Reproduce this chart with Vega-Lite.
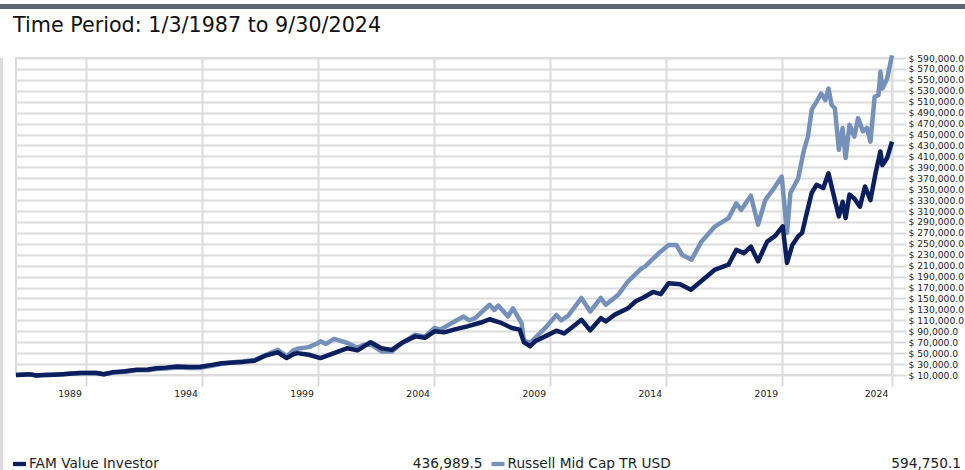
{
  "$schema": "https://vega.github.io/schema/vega-lite/v6.json",
  "background": "white",
  "padding": 0,
  "config": {"view": {"stroke": null}, "font": "DejaVu Sans", "concat": {"spacing": 0}},
  "datasets": {
    "fam": [
      {"date": "1987-01-03", "value": 10000}, {"date": "1987-04-15", "value": 10600}, {"date": "1987-08-15", "value": 11200},
      {"date": "1987-11-15", "value": 9200}, {"date": "1988-03-15", "value": 9800}, {"date": "1988-08-15", "value": 10500},
      {"date": "1989-01-15", "value": 11500}, {"date": "1989-06-15", "value": 12800}, {"date": "1989-10-15", "value": 13500},
      {"date": "1990-01-15", "value": 13700}, {"date": "1990-06-15", "value": 13800}, {"date": "1990-10-15", "value": 11500},
      {"date": "1991-03-15", "value": 15000}, {"date": "1991-09-15", "value": 16700}, {"date": "1992-03-15", "value": 19500},
      {"date": "1992-09-15", "value": 20000}, {"date": "1993-01-15", "value": 22500}, {"date": "1993-06-15", "value": 23500},
      {"date": "1993-12-15", "value": 25500}, {"date": "1994-06-15", "value": 24500}, {"date": "1994-12-15", "value": 25000},
      {"date": "1995-06-15", "value": 28500}, {"date": "1995-11-15", "value": 31500}, {"date": "1996-05-15", "value": 33000},
      {"date": "1996-10-15", "value": 34000}, {"date": "1997-04-15", "value": 36000}, {"date": "1997-10-15", "value": 46000},
      {"date": "1998-04-15", "value": 51500}, {"date": "1998-08-31", "value": 41000}, {"date": "1998-12-15", "value": 48000},
      {"date": "1999-02-15", "value": 50000}, {"date": "1999-08-15", "value": 47000}, {"date": "2000-02-15", "value": 41000},
      {"date": "2000-09-15", "value": 50000}, {"date": "2001-04-15", "value": 59000}, {"date": "2001-09-20", "value": 55000},
      {"date": "2002-04-15", "value": 70000}, {"date": "2002-09-30", "value": 59000}, {"date": "2003-03-15", "value": 56000},
      {"date": "2003-08-15", "value": 68500}, {"date": "2004-03-15", "value": 80700}, {"date": "2004-08-15", "value": 78000},
      {"date": "2005-01-15", "value": 90000}, {"date": "2005-06-15", "value": 88000}, {"date": "2005-11-15", "value": 93000},
      {"date": "2006-06-15", "value": 99000}, {"date": "2007-01-15", "value": 106000}, {"date": "2007-05-31", "value": 112000},
      {"date": "2007-11-15", "value": 106000}, {"date": "2008-05-15", "value": 96000}, {"date": "2008-09-15", "value": 93000},
      {"date": "2008-11-20", "value": 70000}, {"date": "2009-02-28", "value": 62500}, {"date": "2009-05-15", "value": 71600},
      {"date": "2009-11-15", "value": 82000}, {"date": "2010-04-15", "value": 91000}, {"date": "2010-08-15", "value": 86000},
      {"date": "2010-12-15", "value": 97000}, {"date": "2011-05-15", "value": 111000}, {"date": "2011-09-30", "value": 91700},
      {"date": "2012-03-15", "value": 114000}, {"date": "2012-05-31", "value": 108000}, {"date": "2012-10-15", "value": 120000},
      {"date": "2013-05-15", "value": 132000}, {"date": "2013-09-15", "value": 145000}, {"date": "2013-12-31", "value": 151000},
      {"date": "2014-06-15", "value": 162000}, {"date": "2014-10-15", "value": 158000}, {"date": "2015-02-15", "value": 178000},
      {"date": "2015-08-15", "value": 176000}, {"date": "2016-01-31", "value": 166000}, {"date": "2016-07-15", "value": 182000},
      {"date": "2017-02-15", "value": 203000}, {"date": "2017-09-15", "value": 212000}, {"date": "2018-01-15", "value": 239000},
      {"date": "2018-05-15", "value": 233000}, {"date": "2018-08-31", "value": 245000}, {"date": "2018-12-24", "value": 218000},
      {"date": "2019-05-15", "value": 254000}, {"date": "2019-09-15", "value": 264000}, {"date": "2020-01-15", "value": 282000},
      {"date": "2020-03-23", "value": 215000}, {"date": "2020-06-15", "value": 248000}, {"date": "2020-09-15", "value": 264000},
      {"date": "2020-11-15", "value": 270000}, {"date": "2021-01-15", "value": 300000}, {"date": "2021-04-15", "value": 343000},
      {"date": "2021-06-30", "value": 358000}, {"date": "2021-10-15", "value": 352000}, {"date": "2022-01-05", "value": 379000},
      {"date": "2022-03-07", "value": 349000}, {"date": "2022-06-17", "value": 300000}, {"date": "2022-08-15", "value": 327000},
      {"date": "2022-10-01", "value": 297000}, {"date": "2022-12-01", "value": 340000}, {"date": "2023-02-15", "value": 333000},
      {"date": "2023-05-15", "value": 318000}, {"date": "2023-08-01", "value": 355000}, {"date": "2023-10-27", "value": 330000},
      {"date": "2024-01-15", "value": 379000}, {"date": "2024-03-31", "value": 419000}, {"date": "2024-05-01", "value": 394000},
      {"date": "2024-07-15", "value": 407000}, {"date": "2024-09-30", "value": 436989.5}
    ],
    "rmc": [
      {"date": "1987-01-03", "value": 10000}, {"date": "1987-04-15", "value": 10800}, {"date": "1987-08-15", "value": 11500},
      {"date": "1987-11-15", "value": 9000}, {"date": "1988-03-15", "value": 9900}, {"date": "1988-08-15", "value": 10600},
      {"date": "1989-01-15", "value": 11600}, {"date": "1989-06-15", "value": 13200}, {"date": "1989-10-15", "value": 13800},
      {"date": "1990-01-15", "value": 13500}, {"date": "1990-06-15", "value": 14000}, {"date": "1990-10-15", "value": 11300},
      {"date": "1991-03-15", "value": 14800}, {"date": "1991-09-15", "value": 16000}, {"date": "1992-03-15", "value": 18500},
      {"date": "1992-09-15", "value": 18800}, {"date": "1993-01-15", "value": 21000}, {"date": "1993-06-15", "value": 22000},
      {"date": "1993-12-15", "value": 23500}, {"date": "1994-06-15", "value": 22800}, {"date": "1994-12-15", "value": 23000},
      {"date": "1995-06-15", "value": 27000}, {"date": "1995-11-15", "value": 30500}, {"date": "1996-05-15", "value": 33500},
      {"date": "1996-10-15", "value": 35000}, {"date": "1997-04-15", "value": 37500}, {"date": "1997-10-15", "value": 47000},
      {"date": "1998-04-15", "value": 56000}, {"date": "1998-08-31", "value": 44000}, {"date": "1998-12-15", "value": 55000},
      {"date": "1999-02-15", "value": 58000}, {"date": "1999-08-15", "value": 61000}, {"date": "1999-12-31", "value": 68000},
      {"date": "2000-02-15", "value": 71600}, {"date": "2000-05-15", "value": 67000}, {"date": "2000-09-15", "value": 76000},
      {"date": "2001-04-15", "value": 68500}, {"date": "2001-09-20", "value": 60000}, {"date": "2001-12-15", "value": 65000},
      {"date": "2002-04-15", "value": 66000}, {"date": "2002-09-30", "value": 53000}, {"date": "2003-03-15", "value": 53000},
      {"date": "2003-08-15", "value": 68000}, {"date": "2004-03-15", "value": 83700}, {"date": "2004-08-15", "value": 80000},
      {"date": "2005-01-15", "value": 96000}, {"date": "2005-04-15", "value": 93000}, {"date": "2005-10-15", "value": 105000},
      {"date": "2006-04-15", "value": 117000}, {"date": "2006-07-15", "value": 110000}, {"date": "2006-10-15", "value": 114000},
      {"date": "2007-05-31", "value": 138500}, {"date": "2007-08-15", "value": 129000}, {"date": "2007-10-15", "value": 137000},
      {"date": "2008-03-15", "value": 117000}, {"date": "2008-06-01", "value": 132000}, {"date": "2008-10-15", "value": 105000},
      {"date": "2008-11-20", "value": 73000}, {"date": "2009-02-28", "value": 68500}, {"date": "2009-05-15", "value": 77600},
      {"date": "2009-11-15", "value": 99000}, {"date": "2010-04-15", "value": 120000}, {"date": "2010-06-30", "value": 110000},
      {"date": "2010-10-15", "value": 118000}, {"date": "2011-05-15", "value": 151000}, {"date": "2011-09-30", "value": 126000},
      {"date": "2012-03-15", "value": 151000}, {"date": "2012-05-31", "value": 138500}, {"date": "2012-12-15", "value": 157000},
      {"date": "2013-05-15", "value": 181000}, {"date": "2013-12-15", "value": 205000}, {"date": "2014-02-15", "value": 209000},
      {"date": "2014-09-15", "value": 233000}, {"date": "2015-02-15", "value": 248000}, {"date": "2015-06-15", "value": 248000},
      {"date": "2015-09-15", "value": 230000}, {"date": "2016-02-11", "value": 221000}, {"date": "2016-07-15", "value": 254000},
      {"date": "2017-02-15", "value": 282000}, {"date": "2017-09-15", "value": 297000}, {"date": "2018-01-15", "value": 324000},
      {"date": "2018-04-01", "value": 312000}, {"date": "2018-08-31", "value": 338000}, {"date": "2018-12-24", "value": 285000},
      {"date": "2019-04-15", "value": 330000}, {"date": "2019-08-15", "value": 349000}, {"date": "2019-12-31", "value": 373000},
      {"date": "2020-03-23", "value": 270000}, {"date": "2020-05-15", "value": 343000}, {"date": "2020-09-15", "value": 370000},
      {"date": "2020-12-15", "value": 422000}, {"date": "2021-02-15", "value": 446000}, {"date": "2021-04-15", "value": 495000},
      {"date": "2021-07-15", "value": 513000}, {"date": "2021-09-10", "value": 525000}, {"date": "2021-11-15", "value": 513000},
      {"date": "2022-01-05", "value": 534000}, {"date": "2022-02-23", "value": 504000}, {"date": "2022-04-15", "value": 498000},
      {"date": "2022-06-17", "value": 422000}, {"date": "2022-08-15", "value": 462000}, {"date": "2022-10-01", "value": 407000},
      {"date": "2022-12-01", "value": 468000}, {"date": "2023-02-15", "value": 446000}, {"date": "2023-04-15", "value": 480000},
      {"date": "2023-07-01", "value": 456000}, {"date": "2023-09-01", "value": 462000}, {"date": "2023-10-27", "value": 437000},
      {"date": "2024-01-01", "value": 519000}, {"date": "2024-03-01", "value": 522000}, {"date": "2024-04-01", "value": 565000},
      {"date": "2024-05-01", "value": 534000}, {"date": "2024-07-15", "value": 552000}, {"date": "2024-09-30", "value": 594750.1}
    ],
    "legend": [
      {"series": "FAM Value Investor", "total": 436989.5},
      {"series": "Russell Mid Cap TR USD", "total": 594750.1}
    ]
  },
  "spacing": 2,
  "vconcat": [
    {
      "width": 965, "height": 5,
      "view": {"fill": "#5b6670", "stroke": null},
      "data": {"values": [{}]},
      "mark": "text",
      "encoding": {"text": {"value": ""}}
    },
    {
      "spacing": 9,
      "hconcat": [
        {
          "width": 3, "height": 465,
          "view": {"fill": "#dcdcdc", "stroke": null},
          "data": {"values": [{}]},
          "mark": "text",
          "encoding": {"text": {"value": ""}}
        },
        {
          "spacing": 56,
          "vconcat": [
            {
              "width": 876, "height": 317,
              "view": {"stroke": "#dcdcdc", "strokeWidth": 2},
              "title": {"text": "Time Period: 1/3/1987 to 9/30/2024", "anchor": "start", "frame": "group", "fontSize": 20.7, "fontWeight": "normal", "color": "#111111", "dx": -3, "offset": 16, "font": "DejaVu Sans"},
              "encoding": {
                "x": {
                  "field": "date", "type": "temporal",
                  "scale": {"type": "utc", "domain": [{"year": 1987, "month": 1, "date": 3, "utc": true}, {"year": 2024, "month": 9, "date": 30, "utc": true}]},
                  "axis": {
                    "title": null,
                    "values": [
                      {"year": 1990, "month": 1, "date": 1, "utc": true},
                      {"year": 1995, "month": 1, "date": 1, "utc": true},
                      {"year": 2000, "month": 1, "date": 1, "utc": true},
                      {"year": 2005, "month": 1, "date": 1, "utc": true},
                      {"year": 2010, "month": 1, "date": 1, "utc": true},
                      {"year": 2015, "month": 1, "date": 1, "utc": true},
                      {"year": 2020, "month": 1, "date": 1, "utc": true},
                      {"year": 2024, "month": 9, "date": 30, "utc": true}
                    ],
                    "labelExpr": "utcyear(datum.value) == 2024 ? '2024' : '' + (utcyear(datum.value) - 1)",
                    "labelOffset": -16,
                    "labelFlush": false,
                    "labelOverlap": false,
                    "labelFontSize": 9.3,
                    "labelColor": "#222222",
                    "labelPadding": 3,
                    "tickSize": 11, "tickColor": "#dcdcdc", "tickWidth": 2,
                    "grid": true, "gridColor": "#dcdcdc", "gridWidth": 2,
                    "domain": false
                  }
                },
                "y": {
                  "field": "value", "type": "quantitative",
                  "scale": {"domain": [10000, 590000], "nice": false, "zero": false},
                  "axis": {
                    "title": null, "orient": "right",
                    "values": [10000, 30000, 50000, 70000, 90000, 110000, 130000, 150000, 170000, 190000, 210000, 230000, 250000, 270000, 290000, 310000, 330000, 350000, 370000, 390000, 410000, 430000, 450000, 470000, 490000, 510000, 530000, 550000, 570000, 590000],
                    "labelExpr": "'$ ' + format(datum.value, ',.1f')",
                    "labelOverlap": false,
                    "labelFlush": false,
                    "labelFontSize": 9.2,
                    "labelColor": "#222222",
                    "labelPadding": 2,
                    "tickSize": 14, "tickColor": "#dcdcdc", "tickWidth": 2,
                    "grid": true, "gridColor": "#dcdcdc", "gridWidth": 2,
                    "domain": false
                  }
                }
              },
              "layer": [
                {"data": {"name": "rmc"}, "mark": {"type": "line", "color": "#7591bb", "strokeWidth": 4.5, "strokeJoin": "round"}},
                {"data": {"name": "fam"}, "mark": {"type": "line", "color": "#0b1f5e", "strokeWidth": 4.5, "strokeJoin": "round"}}
              ]
            },
            {
              "width": 957, "height": 16,
              "data": {"name": "legend"},
              "encoding": {
                "x": {"field": "series", "type": "nominal", "sort": null, "scale": {"type": "band", "paddingInner": 0, "paddingOuter": 0}, "axis": null}
              },
              "layer": [
                {
                  "mark": {"type": "point", "shape": "M-1,-0.33H1V0.33H-1Z", "filled": true, "size": 169, "xOffset": 3.5, "opacity": 1},
                  "encoding": {
                    "x": {"field": "series", "type": "nominal", "sort": null, "bandPosition": 0},
                    "color": {"field": "series", "type": "nominal", "scale": {"domain": ["FAM Value Investor", "Russell Mid Cap TR USD"], "range": ["#0b1f5e", "#7591bb"]}, "legend": null}
                  }
                },
                {
                  "mark": {"type": "text", "align": "left", "dx": 13, "fontSize": 13.7, "color": "#222222", "baseline": "middle"},
                  "encoding": {
                    "x": {"field": "series", "type": "nominal", "sort": null, "bandPosition": 0},
                    "text": {"field": "series"}
                  }
                },
                {
                  "mark": {"type": "text", "align": "right", "dx": -12, "fontSize": 13.7, "color": "#222222", "baseline": "middle"},
                  "encoding": {
                    "x": {"field": "series", "type": "nominal", "sort": null, "bandPosition": 1},
                    "text": {"field": "total", "type": "quantitative", "format": ",.1f"}
                  }
                }
              ]
            }
          ]
        }
      ]
    }
  ]
}
